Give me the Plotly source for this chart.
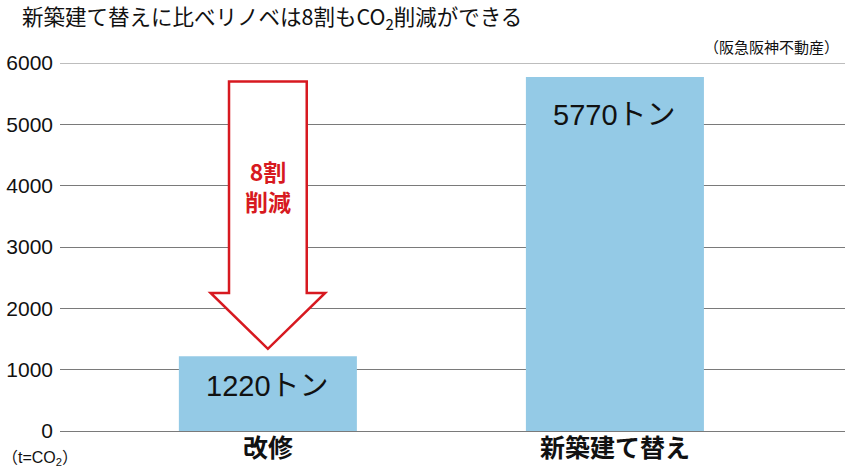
import plotly.graph_objects as go

categories = ["改修", "新築建て替え"]
values = [1220, 5770]
value_labels = ["1220トン", "5770トン"]
y_ticks = [0, 1000, 2000, 3000, 4000, 5000, 6000]

title_text = "新築建て替えに比べリノベは8割もCO<sub>2</sub>削減ができる"
source_text = "（阪急阪神不動産）"
unit_text = "（t=CO<sub>2</sub>）"
arrow_text = "8割<br>削減"

BAR = "#94CAE6"
RED = "#D71920"
CJK = "Noto Sans CJK JP"
LAT = "Liberation Sans, Arial, Noto Sans CJK JP"

x_idx = list(range(len(categories)))

fig = go.Figure()
fig.add_trace(go.Bar(
    x=x_idx, y=values, width=0.513,
    marker=dict(color=BAR, line=dict(width=0)),
    hoverinfo="skip",
))

# value labels inside bars
label_shift = [-12, -20]
for xi, v, t, s in zip(x_idx, values, value_labels, label_shift):
    fig.add_annotation(x=xi, y=v, text=t, showarrow=False, yanchor="top",
                       yshift=s, font=dict(family=LAT, size=29, color="#111"))

# reduction arrow (from top of new-build level down to renovation level)
top = values[1] - 70
wing = 2250
tip = values[0] + 120
hs, hw = 0.112, 0.165
path = (f"M {-hs},{top} L {hs},{top} L {hs},{wing} L {hw},{wing} L 0,{tip} "
        f"L {-hw},{wing} L {-hs},{wing} Z")
fig.add_shape(type="path", path=path, xref="x", yref="y",
              line=dict(color=RED, width=2.5), fillcolor="white", layer="above")
fig.add_annotation(x=0, y=4000, text=arrow_text, showarrow=False,
                   font=dict(family=CJK, size=23, color=RED, weight="bold"))

# top line lighter
fig.add_shape(type="line", xref="paper", yref="y", x0=0, x1=1, y0=6000, y1=6000,
              line=dict(color="#BDBDBD", width=2), layer="below")

fig.update_layout(
    width=845, height=470,
    margin=dict(l=60, r=0, t=63, b=39),
    paper_bgcolor="white", plot_bgcolor="white",
    showlegend=False,
    title=dict(text=title_text, x=22/845, xanchor="left", xref="container",
               y=1-10/470, yanchor="top", yref="container",
               font=dict(family=CJK, size=21.5, color="#111")),
    xaxis=dict(range=[-0.599, 1.663], tickvals=x_idx, ticktext=categories,
               showgrid=False, zeroline=False, showline=False, ticks="",
               tickfont=dict(family=CJK, size=25, color="#111", weight="bold")),
    yaxis=dict(range=[0, 6000], tickvals=y_ticks, showgrid=True,
               gridcolor="#7A7A7A", gridwidth=1, zeroline=True,
               zerolinecolor="#7A7A7A", zerolinewidth=1, showline=False,
               ticks="", ticklabelstandoff=6,
               tickfont=dict(family=LAT, size=21, color="#111")),
    annotations=list(fig.layout.annotations) + [
        dict(text=source_text, xref="paper", yref="paper", x=1, y=1,
             xanchor="right", yanchor="bottom", yshift=4, xshift=-4, showarrow=False,
             font=dict(family=CJK, size=15, color="#111")),
        dict(text=unit_text, xref="paper", yref="paper", x=-60/785, y=0,
             xanchor="left", yanchor="top", yshift=-16, showarrow=False,
             font=dict(family=LAT, size=16, color="#111")),
    ],
)

fig.write_html("out.html", config={"displayModeBar": False},
               post_script="document.body.style.margin='0';document.body.style.overflow='hidden';")
